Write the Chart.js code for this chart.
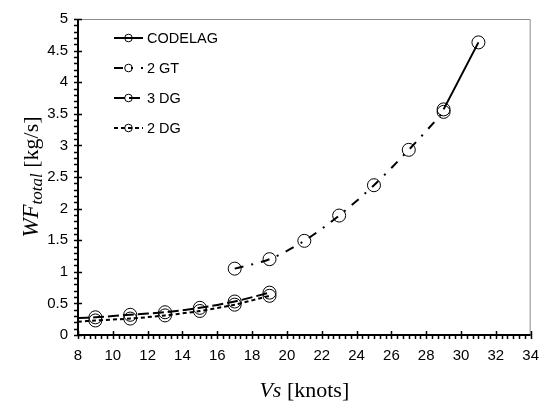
<!DOCTYPE html>
<html>
<head>
<meta charset="utf-8">
<script src="https://cdn.jsdelivr.net/npm/chart.js@4.4.0/dist/chart.umd.min.js"></script>
<style>
  html, body { margin: 0; padding: 0; background: #fff; }
  #wrap { width: 551px; height: 406px; }
</style>
</head>
<body>
<div id="wrap"><canvas id="wfChart" width="551" height="406"></canvas></div>
<script>
// values
const codelagX = [29, 31];
const codelagY = [3.57, 4.63];
const gtX = [17, 19, 21, 23, 25, 27, 29];
const gtY = [1.05, 1.20, 1.49, 1.89, 2.37, 2.93, 3.53];
// first point (x = 8) is where the trend line starts, no marker there
const dg3X = [8, 9, 11, 13, 15, 17, 19];
const dg3Y = [0.27, 0.28, 0.32, 0.36, 0.43, 0.53, 0.67];
const dg2X = [8, 9, 11, 13, 15, 17, 19];
const dg2Y = [0.21, 0.23, 0.26, 0.31, 0.38, 0.48, 0.62];

const xTicks = [8, 10, 12, 14, 16, 18, 20, 22, 24, 26, 28, 30, 32, 34];
const yTicks = [0, 0.5, 1, 1.5, 2, 2.5, 3, 3.5, 4, 4.5, 5];

const pts = (xs, ys) => xs.map((x, i) => ({ x, y: ys[i] }));
const radii = (xs) => xs.map(x => x === 8 ? 0 : 6.5);

function series(label, xs, ys, dash, width) {
    return {
        label,
        data: pts(xs, ys),
        borderColor: '#000',
        borderWidth: width,
        borderDash: dash,
        pointRadius: radii(xs),
        pointBorderColor: '#000',
        pointBackgroundColor: 'rgba(0,0,0,0)',
        pointBorderWidth: 1,
        tension: 0.3,
        fill: false,
    };
}

const datasets = [
    series('CODELAG', codelagX, codelagY, [], 2),
    series('2 GT', gtX, gtY, [9, 8, 2, 8], 2),
    series('3 DG', dg3X, dg3Y, [11, 4], 2),
    series('2 DG', dg2X, dg2Y, [4, 3], 2),
];

// axes frame, tick marks, legend and titles drawn by hand (Excel look)
const excelLook = {
    id: 'excelLook',
    beforeDatasetsDraw(chart) {
        const { ctx, chartArea: a, scales: { x, y } } = chart;
        ctx.save();
        ctx.strokeStyle = '#8c8c8c';
        ctx.lineWidth = 1;
        ctx.beginPath();
        ctx.moveTo(a.left, a.top + 0.5);
        ctx.lineTo(a.right - 0.5, a.top + 0.5);
        ctx.lineTo(a.right - 0.5, a.bottom);
        ctx.stroke();

        ctx.strokeStyle = '#000';
        ctx.lineWidth = 1.5;
        ctx.beginPath();
        for (let v = 8; v <= 34.001; v += 2 / 6) {
            const px = Math.round(x.getPixelForValue(v)) + 0.5;
            const major = Math.abs(v - Math.round(v / 2) * 2) < 1e-6;
            ctx.moveTo(px, a.bottom + 4);
            ctx.lineTo(px, major ? a.bottom - 4 : a.bottom);
        }
        for (let v = 0; v <= 5.001; v += 0.1) {
            const py = Math.round(y.getPixelForValue(v)) + 0.5;
            const major = Math.abs(v * 2 - Math.round(v * 2)) < 1e-6;
            ctx.moveTo(a.left - 4, py);
            ctx.lineTo(major ? a.left + 4 : a.left, py);
        }
        ctx.stroke();

        ctx.lineWidth = 2;
        ctx.beginPath();
        ctx.moveTo(a.left, a.top);
        ctx.lineTo(a.left, a.bottom);
        ctx.lineTo(a.right, a.bottom);
        ctx.stroke();
        ctx.restore();
    },
    afterDraw(chart) {
        const { ctx, chartArea: a } = chart;
        ctx.save();
        // legend
        chart.data.datasets.forEach((ds, i) => {
            const ly = 38 + i * 30;
            ctx.strokeStyle = '#000';
            ctx.lineWidth = ds.borderWidth;
            ctx.setLineDash(ds.borderDash);
            ctx.beginPath();
            ctx.moveTo(114, ly);
            ctx.lineTo(143, ly);
            ctx.stroke();
            ctx.setLineDash([]);
            ctx.lineWidth = 1;
            ctx.beginPath();
            ctx.arc(128.5, ly, 3.8, 0, Math.PI * 2);
            ctx.stroke();
            ctx.fillStyle = '#000';
            ctx.font = '14.5px "Liberation Sans", Arial, sans-serif';
            ctx.textBaseline = 'middle';
            ctx.textAlign = 'left';
            ctx.fillText(ds.label, 147, ly + 1);
        });

        // x title: Vs [knots]
        const serif = '"Liberation Serif", "DejaVu Serif", serif';
        ctx.textBaseline = 'alphabetic';
        ctx.textAlign = 'left';
        const cx = (a.left + a.right) / 2;
        ctx.font = 'italic 22px ' + serif;
        const w1 = ctx.measureText('Vs').width;
        ctx.font = '22px ' + serif;
        const w2 = ctx.measureText(' [knots]').width;
        let sx = cx - (w1 + w2) / 2;
        ctx.font = 'italic 22px ' + serif;
        ctx.fillText('Vs', sx, 397);
        ctx.font = '22px ' + serif;
        ctx.fillText(' [knots]', sx + w1, 397);

        // y title: WF_total [kg/s]
        ctx.translate(38, (a.top + a.bottom) / 2);
        ctx.rotate(-Math.PI / 2);
        ctx.font = 'italic 23px ' + serif;
        const a1 = ctx.measureText('WF').width;
        ctx.font = 'italic 17px ' + serif;
        const a2 = ctx.measureText('total').width;
        ctx.font = '22px ' + serif;
        const a3 = ctx.measureText(' [kg/s]').width;
        sx = -(a1 + a2 + a3) / 2;
        ctx.font = 'italic 23px ' + serif;
        ctx.fillText('WF', sx, 0);
        ctx.font = 'italic 17px ' + serif;
        ctx.fillText('total', sx + a1, 4);
        ctx.font = '22px ' + serif;
        ctx.fillText(' [kg/s]', sx + a1 + a2, 0);
        ctx.restore();
    }
};

const tickFont = { family: '"Liberation Sans", Arial, sans-serif', size: 15 };

new Chart(document.getElementById('wfChart'), {
    type: 'line',
    data: { datasets },
    options: {
        responsive: false,
        animation: false,
        layout: { padding: { top: 13, right: 12, left: 0, bottom: 0 } },
        plugins: { legend: { display: false }, tooltip: { enabled: false } },
        scales: {
            x: {
                type: 'linear',
                min: 8,
                max: 34,
                afterBuildTicks: s => { s.ticks = xTicks.map(value => ({ value })); },
                afterFit: s => { s.height = 71; },
                ticks: { color: '#000', font: tickFont, padding: 12, maxRotation: 0, callback: v => String(v) },
                grid: { display: false, drawTicks: false },
                border: { display: false },
            },
            y: {
                min: 0,
                max: 5,
                afterBuildTicks: s => { s.ticks = yTicks.map(value => ({ value })); },
                afterFit: s => { s.width = 78; },
                ticks: { color: '#000', font: tickFont, padding: 10, callback: v => String(v) },
                grid: { display: false, drawTicks: false },
                border: { display: false },
            }
        }
    },
    plugins: [excelLook]
});
</script>
</body>
</html>
